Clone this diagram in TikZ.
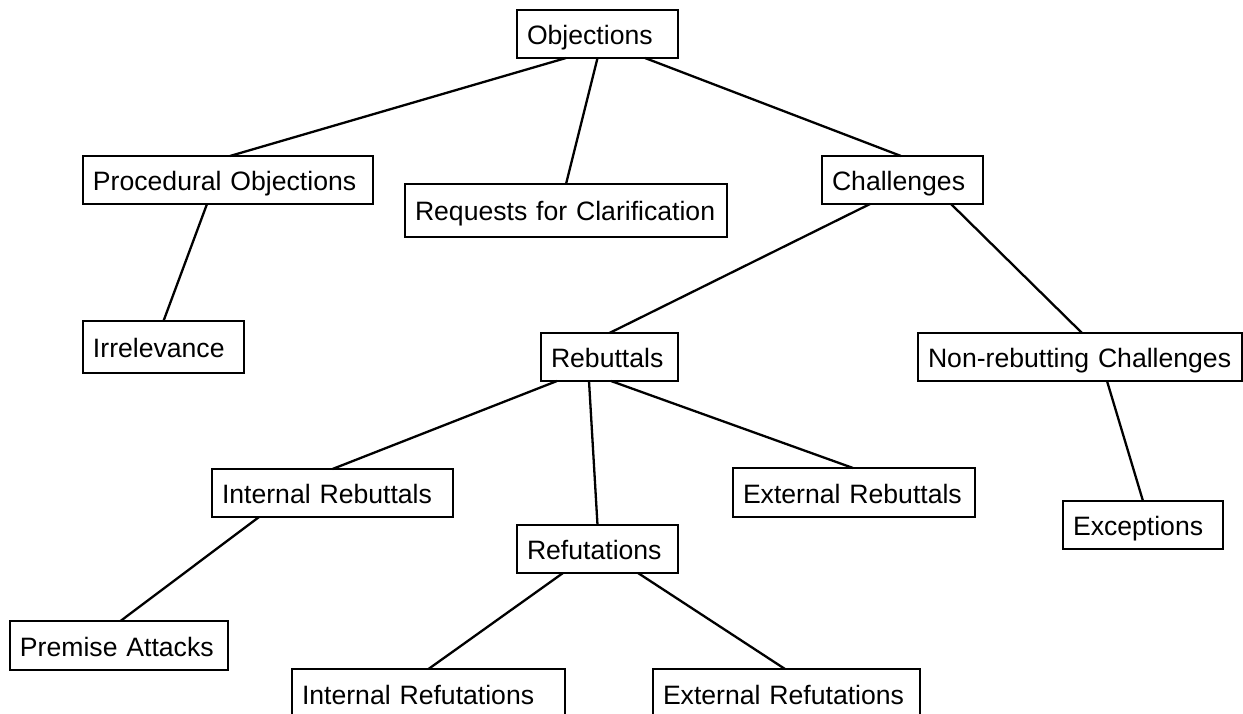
\documentclass[tikz,border=0pt]{standalone}
\usepackage{fontspec}
\setmainfont{Liberation Sans}
\tikzset{
  box/.style={draw=black, line width=2.6bp, fill=white, rectangle, inner xsep=10bp, inner ysep=0bp,
    outer sep=0pt, align=left, text height=21bp, text depth=0bp,
    font=\fontsize{26.7}{32}\selectfont},
  edge/.style={draw=black, line width=2.3bp}
}
\begin{document}
\begin{tikzpicture}[x=1bp,y=-1bp]
\useasboundingbox (0,0) rectangle (1243,714);
\clip (0,0) rectangle (1243,714);
\fill[white] (0,0) rectangle (1243,714);
% nodes
\node[box, text width=141bp, minimum height=48bp] (obj) at (597.5,34) {Objections};
\node[box, text width=270bp, minimum height=48bp] (proc) at (228,180) {Procedural Objections};
\node[box, text width=302bp, minimum height=53bp] (req) at (566,210.5) {Requests for Clarification};
\node[box, text width=141bp, minimum height=48bp] (chal) at (902.5,180) {Challenges};
\node[box, text width=141bp, minimum height=52bp] (irr) at (163.5,347) {Irrelevance};
\node[box, text width=117bp, minimum height=48bp] (reb) at (609.5,357) {Rebuttals};
\node[box, text width=304bp, minimum height=48bp] (nr) at (1080,357) {Non-rebutting Challenges};
\node[box, text width=221bp, minimum height=48bp] (intreb) at (332.5,493) {Internal Rebuttals};
\node[box, text width=222bp, minimum height=49bp] (extreb) at (854,492.5) {External Rebuttals};
\node[box, text width=141bp, minimum height=48bp] (ref) at (597.5,549) {Refutations};
\node[box, text width=140bp, minimum height=48bp] (exc) at (1143,525) {Exceptions};
\node[box, text width=198bp, minimum height=49bp] (prem) at (119,645.5) {Premise Attacks};
\node[box, text width=253bp, minimum height=49bp] (intref) at (428.5,693.5) {Internal Refutations};
\node[box, text width=247bp, minimum height=49bp] (extref) at (786.5,693.5) {External Refutations};
% edges
\draw[edge] ([xshift=-31.5bp]obj.south) -- ([xshift=2bp]proc.north);
\draw[edge] (obj.south) -- (req.north);
\draw[edge] ([xshift=47.5bp]obj.south) -- ([xshift=-1.5bp]chal.north);
\draw[edge] ([xshift=-21bp]proc.south) -- (irr.north);
\draw[edge] ([xshift=-32.5bp]chal.south) -- (reb.north);
\draw[edge] ([xshift=48.5bp]chal.south) -- ([xshift=2bp]nr.north);
\draw[edge] ([xshift=-52.5bp]reb.south) -- (intreb.north);
\draw[edge] ([xshift=-20.5bp]reb.south) -- (ref.north);
\draw[edge] ([xshift=1.5bp]reb.south) -- ([xshift=-1bp]extreb.north);
\draw[edge] ([xshift=27bp]nr.south) -- (exc.north);
\draw[edge] ([xshift=-73.5bp]intreb.south) -- ([xshift=1.5bp]prem.north);
\draw[edge] ([xshift=-34.5bp]ref.south) -- (intref.north);
\draw[edge] ([xshift=40.5bp]ref.south) -- ([xshift=-1.5bp]extref.north);
\end{tikzpicture}
\end{document}
